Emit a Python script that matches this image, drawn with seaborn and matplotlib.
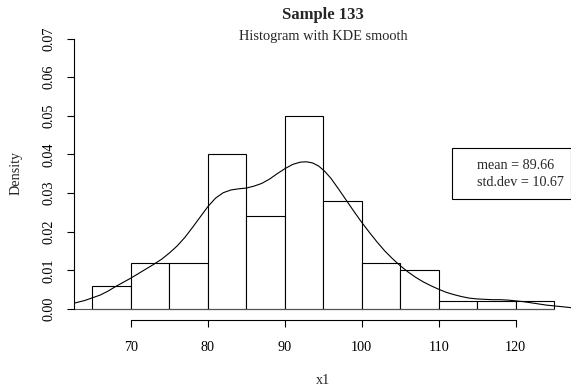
import matplotlib
matplotlib.use('Agg')
import matplotlib.pyplot as plt
import seaborn as sns
import numpy as np
from matplotlib.patches import Rectangle

# histogram: bin edges and density of each bin
bin_edges = [65, 70, 75, 80, 85, 90, 95, 100, 105, 110, 115, 120, 125]
bin_density = [0.006, 0.012, 0.012, 0.040, 0.024, 0.050, 0.028,
               0.012, 0.010, 0.002, 0.002, 0.002]

# KDE curve
kde_x = [62.6, 64, 65, 66, 67, 68, 69, 70, 71, 72, 73, 74, 75, 76, 77, 78,
         79, 80, 81, 82, 83, 84, 85, 86, 87, 88, 89, 90, 91, 92, 92.8, 93.6,
         94.4, 95.2, 96, 97, 98, 99, 100, 101, 102, 103, 104, 105, 106, 107,
         108, 109, 110, 111, 112, 113, 114, 115, 116, 117, 118, 119, 120,
         121, 122, 123, 124, 125, 126, 127.4]
kde_y = [0.0015, 0.0022, 0.0029, 0.0036, 0.0046, 0.0058, 0.0069, 0.0080,
         0.0092, 0.0104, 0.0116, 0.0129, 0.0145, 0.0163, 0.0185, 0.0211,
         0.0238, 0.0265, 0.0287, 0.0301, 0.0308, 0.0311, 0.0313, 0.0318,
         0.0325, 0.0336, 0.0350, 0.0363, 0.0374, 0.0380, 0.0381, 0.0378,
         0.0370, 0.0356, 0.0338, 0.0310, 0.0281, 0.0252, 0.0224, 0.0198,
         0.0173, 0.0150, 0.0130, 0.0112, 0.0096, 0.0082, 0.0070, 0.0060,
         0.0051, 0.0043, 0.0037, 0.0032, 0.0028, 0.0026, 0.0025, 0.0024,
         0.0024, 0.0023, 0.0021, 0.0019, 0.0016, 0.0013, 0.0010, 0.0008,
         0.0006, 0.0003]

x_ticks = [70, 80, 90, 100, 110, 120]
y_ticks = [0.00, 0.01, 0.02, 0.03, 0.04, 0.05, 0.06, 0.07]
title = 'Sample 133'
subtitle = 'Histogram with KDE smooth'
stats_lines = ['mean = 89.66', 'std.dev = 10.67']

sns.set_style('white')
plt.rcParams['font.family'] = ['Liberation Serif', 'DejaVu Serif']
plt.rcParams['font.size'] = 10.2

W, H = 571, 386
fig = plt.figure(figsize=(W / 100, H / 100), dpi=100)
fig.patch.set_facecolor('white')


def px(x, y):
    # pixel coords (top-left origin) -> figure fraction
    return x / W, 1 - y / H


# plot region in pixels
left, right, top, bottom = 74.0, 572.6, 27.7, 319.8
ax = fig.add_axes([left / W, 1 - bottom / H, (right - left) / W, (bottom - top) / H])
ax.set_facecolor('white')

centers = [(a + b) / 2 for a, b in zip(bin_edges[:-1], bin_edges[1:])]
sns.histplot(x=centers, weights=bin_density, bins=bin_edges, stat='count',
             color='white', edgecolor='black', linewidth=0.8, alpha=1, ax=ax)

# baseline under the bars
ax.plot([62.6, bin_edges[-1]], [0, 0], color='#555555', linewidth=0.8,
        zorder=1)

sns.lineplot(x=kde_x, y=kde_y, color='black', linewidth=0.8, ax=ax,
             sort=False, estimator=None)

ax.set_xlim(62.6, 127.4)
ax.set_ylim(-0.0028, 0.0728)
ax.set_xticks(x_ticks)
ax.set_yticks(y_ticks)
ax.set_xticklabels([str(t) for t in x_ticks])
ax.set_yticklabels([f'{t:.2f}' for t in y_ticks], rotation=90, va='center')
ax.set_xlabel('')
ax.set_ylabel('')

for s in ['top', 'right']:
    ax.spines[s].set_visible(False)
for s in ['left', 'bottom']:
    ax.spines[s].set_color('black')
    ax.spines[s].set_linewidth(0.8)
ax.spines['left'].set_bounds(0, 0.07)
ax.spines['bottom'].set_bounds(70, 120)
ax.tick_params(axis='both', direction='out', length=5, width=0.8,
               color='black', labelcolor='black', labelsize=10.2)
ax.tick_params(axis='x', pad=10.5, bottom=True)
ax.tick_params(axis='y', pad=8, left=True)

# titles and axis labels
fig.text(*px(323, 15), title, ha='center', va='center',
         fontsize=12, fontweight='bold')
fig.text(*px(323, 36.7), subtitle, ha='center', va='center', fontsize=10.4)
fig.text(*px(323, 380), 'x1', ha='center', va='center', fontsize=10.2)
fig.text(*px(16, 173), 'Density', ha='center', va='center', rotation=90,
         fontsize=10.2)

# stats box
bx0, by0 = px(451.7, 199.3)
bx1, by1 = px(570.5, 148.3)
fig.patches.append(Rectangle((bx0, by0), bx1 - bx0, by1 - by0,
                             transform=fig.transFigure, fill=False,
                             edgecolor='black', linewidth=0.8))
fig.text(*px(477, 165.7), stats_lines[0], ha='left', va='center', fontsize=10.2)
fig.text(*px(477, 182.7), stats_lines[1], ha='left', va='center', fontsize=10.2)

fig.savefig('out.png', dpi=100, facecolor='white')
